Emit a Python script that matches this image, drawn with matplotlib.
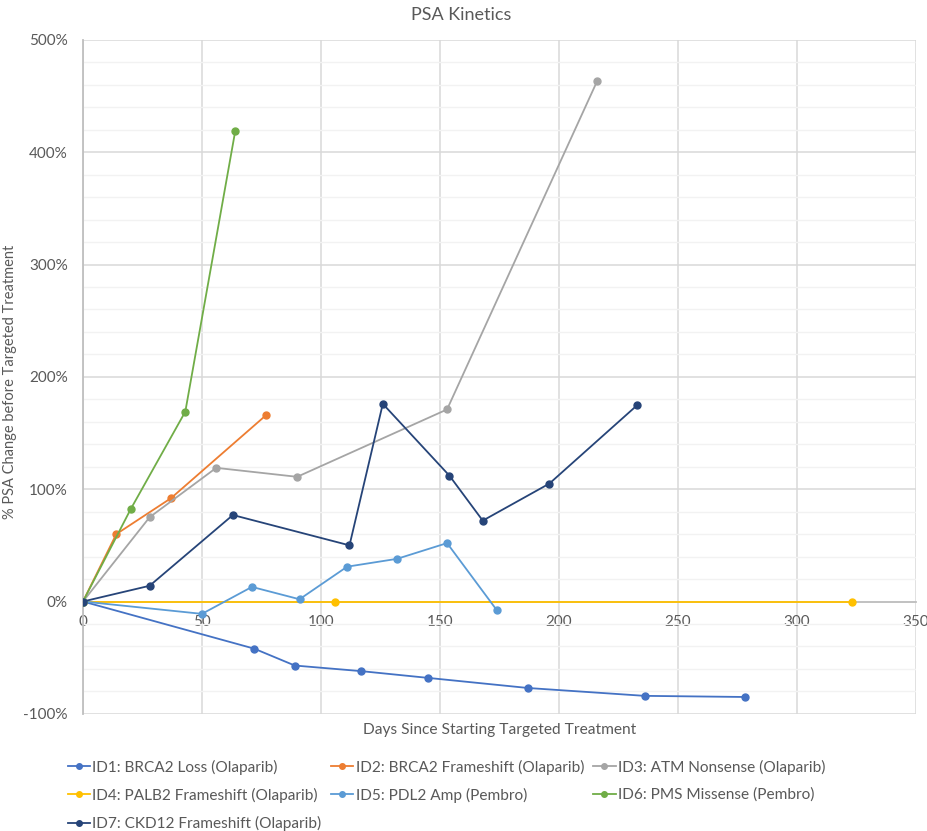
import numpy as np
import matplotlib.pyplot as plt
from matplotlib.ticker import MultipleLocator, FuncFormatter

plt.rcParams['font.family'] = ['Lato', 'DejaVu Sans']

# days since start and % PSA change
id1_days = [0, 72, 89, 117, 145, 187, 236, 278]
id1_psa = [0, -42, -57, -62, -68, -77, -84, -85]
id2_days = [0, 14, 37, 77]
id2_psa = [0, 60, 92, 166]
id3_days = [0, 28, 56, 90, 153, 216]
id3_psa = [0, 75, 119, 111, 171, 463]
id4_days = [0, 106, 323]
id4_psa = [0, 0, 0]
id5_days = [0, 50, 71, 91, 111, 132, 153, 174]
id5_psa = [0, -11, 13, 2, 31, 38, 52, -8]
id6_days = [0, 20, 43, 64]
id6_psa = [0, 82, 169, 419]
id7_days = [0, 28, 63, 112, 126, 154, 168, 196, 233]
id7_psa = [0, 14, 77, 50, 176, 112, 72, 105, 175]

labels = ['ID1: BRCA2 Loss (Olaparib)', 'ID2: BRCA2 Frameshift (Olaparib)',
          'ID3: ATM Nonsense (Olaparib)', 'ID4: PALB2 Frameshift (Olaparib)',
          'ID5: PDL2 Amp (Pembro)', 'ID6: PMS Missense (Pembro)',
          'ID7: CKD12 Frameshift (Olaparib)']
colors = ['#4472C4', '#ED7D31', '#A5A5A5', '#FFC000', '#5B9BD5', '#70AD47', '#264478']
series = [(id1_days, id1_psa), (id2_days, id2_psa), (id3_days, id3_psa),
          (id4_days, id4_psa), (id5_days, id5_psa), (id6_days, id6_psa),
          (id7_days, id7_psa)]

fig = plt.figure(figsize=(9.27, 8.31), dpi=100)
ax = fig.add_axes([0.0895, 0.141, 0.8985, 0.811])

text_col = '#595959'

handles = []
for (d, p), c, lab in zip(series, colors, labels):
    h, = ax.plot(d, p, color=c, lw=1.3, marker='o', ms=5, label=lab, zorder=3)
    handles.append(h)

ax.set_xlim(0, 350)
ax.set_ylim(-100, 500)
ax.xaxis.set_major_locator(MultipleLocator(50))
ax.yaxis.set_major_locator(MultipleLocator(100))
ax.yaxis.set_minor_locator(MultipleLocator(20))
ax.yaxis.set_major_formatter(FuncFormatter(lambda v, pos: '%d%%' % v))

ax.grid(which='major', color='#D9D9D9', lw=1.1, zorder=0)
ax.grid(which='minor', axis='y', color='#F2F2F2', lw=1.0, zorder=0)
ax.set_axisbelow(True)

for s in ['top', 'right']:
    ax.spines[s].set_visible(False)
ax.spines['left'].set_color('#BFBFBF')
ax.spines['left'].set_linewidth(1.3)
ax.spines['bottom'].set_position(('data', 0))
ax.spines['bottom'].set_color('#BFBFBF')
ax.spines['bottom'].set_linewidth(1.3)
ax.spines['bottom'].set_zorder(1)

ax.tick_params(axis='both', which='both', length=0, labelsize=11, labelcolor=text_col)
ax.tick_params(axis='x', pad=10)
ax.tick_params(axis='y', pad=11)
for t in ax.get_xticklabels():
    t.set_clip_on(False)

fig.text(0.497, 0.982, 'PSA Kinetics', ha='center', va='center', fontsize=13, color=text_col)
fig.text(0.011, 0.541, '% PSA Change before Targeted Treatment', rotation=90,
         ha='center', va='center', fontsize=10.5, color=text_col)
fig.text(0.539, 0.1215, 'Days Since Starting Targeted Treatment', ha='center', va='center',
         fontsize=11.2, color=text_col)

# Excel fills the legend row by row, matplotlib column by column
order = [0, 3, 6, 1, 4, 2, 5]
fig.legend([handles[i] for i in order], [labels[i] for i in order], ncol=3,
           loc='upper left', bbox_to_anchor=(0.073, 0.086), frameon=False,
           fontsize=11.1, handlelength=1.45, handletextpad=0.15, columnspacing=0.6,
           labelspacing=0.85, borderpad=0, borderaxespad=0, markerscale=0.8,
           labelcolor=text_col)

fig.savefig('out.png', dpi=100)
